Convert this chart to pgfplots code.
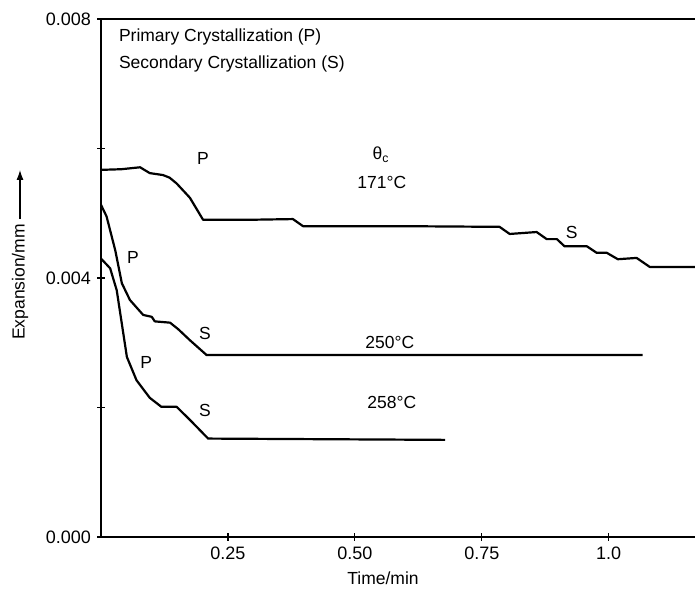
\documentclass[border=0pt]{standalone}
\usepackage{fontspec}
\setmainfont{Liberation Sans}
\usepackage{pgfplots}
\pgfplotsset{compat=1.18}
\usetikzlibrary{arrows.meta}
\begin{document}
\fontsize{17.5}{21}\selectfont
\begin{tikzpicture}
\begin{axis}[
    scale only axis,
    width=594pt, height=518pt,
    xmin=0, xmax=1.17,
    ymin=0, ymax=0.008,
    axis x line*=bottom,
    axis y line*=left,
    axis line style={line width=1.6pt},
    xtick={0.25,0.5,0.75,1.0},
    xticklabels={0.25,0.50,0.75,1.0},
    ytick={0,0.002,0.004,0.006,0.008},
    yticklabels={0.000,,0.004,,0.008},
    scaled y ticks=false,
    tick align=center,
    major tick length=8pt,
    tick style={line width=1.2pt, black},
    /pgf/number format/assume math mode=true,
    ticklabel style={font=\fontsize{18}{21}\selectfont},
    clip=false,
]
% 171 C
\addplot[black, line width=2.2pt, line join=round] coordinates {
    (0,0.00567) (0.04,0.00568) (0.077,0.00571) (0.096,0.00562) (0.122,0.00559)
    (0.135,0.00555) (0.149,0.00546) (0.175,0.00524) (0.201,0.00490) (0.30,0.00490)
    (0.378,0.00491) (0.398,0.00480) (0.6,0.00480) (0.785,0.00479) (0.805,0.00468)
    (0.858,0.00471) (0.878,0.00460) (0.898,0.00460) (0.913,0.00449) (0.957,0.00449)
    (0.976,0.00439) (0.996,0.00439) (1.018,0.00429) (1.055,0.00431) (1.081,0.00417)
    (1.17,0.00417)
};
% 250 C
\addplot[black, line width=2.2pt, line join=round] coordinates {
    (0,0.00513) (0.011,0.00495) (0.028,0.00443) (0.041,0.00392) (0.057,0.00366)
    (0.083,0.00343) (0.1,0.00340) (0.106,0.00333) (0.136,0.00331) (0.152,0.00321)
    (0.175,0.00304) (0.208,0.00281) (1.067,0.00281)
};
% 258 C
\addplot[black, line width=2.2pt, line join=round] coordinates {
    (0,0.00430) (0.018,0.00415) (0.031,0.00381) (0.051,0.00278) (0.07,0.00242)
    (0.096,0.00215) (0.119,0.00201) (0.149,0.00201) (0.175,0.00181) (0.211,0.00152)
    (0.678,0.00150)
};
\draw[line width=1.6pt] (rel axis cs:0,1) -- (rel axis cs:1,1);
\node at (axis cs:0.201,0.00585) {P};
\node at (axis cs:0.551,0.0059) {θ\textsubscript{c}};
\node at (axis cs:0.553,0.00547) {171°C};
\node at (axis cs:0.927,0.00471) {S};
\node at (axis cs:0.063,0.00431) {P};
\node at (axis cs:0.205,0.00315) {S};
\node at (axis cs:0.569,0.00301) {250°C};
\node at (axis cs:0.089,0.00269) {P};
\node at (axis cs:0.205,0.00195) {S};
\node at (axis cs:0.573,0.00208) {258°C};
\end{axis}
\node[anchor=west] at (12pt,500pt) {Primary Crystallization (P)};
\node[anchor=west] at (12pt,473pt) {Secondary Crystallization (S)};
\node at (282pt,-41pt) {Time/min};
\node[rotate=90] at (-81pt,255pt) {Expansion/mm};
\draw[line width=1.1pt,-{Latex[length=10pt,width=7pt]}] (-81pt,318pt) -- (-81pt,367pt);
\pgfresetboundingbox
\path[use as bounding box] (-101pt,-56pt) rectangle (594pt,537pt);
\end{tikzpicture}
\end{document}
